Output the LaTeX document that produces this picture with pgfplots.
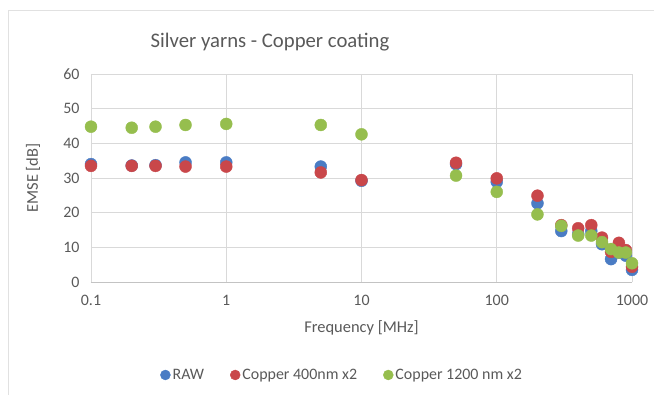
\documentclass[border=0pt]{standalone}
\usepackage{fontspec}
\setmainfont{Carlito}
\usepackage{pgfplots}
\pgfplotsset{compat=1.18}
\definecolor{rawc}{HTML}{4A7CC4}
\definecolor{cuA}{HTML}{C9474A}
\definecolor{cuB}{HTML}{96BE4E}
\definecolor{txt}{HTML}{595959}
\definecolor{grd}{HTML}{D9D9D9}
\begin{document}
\begin{tikzpicture}[x=1bp,y=1bp]
\path[use as bounding box] (0,0) rectangle (654,395);
\draw[grd!80] (8,0) -- (8,385) -- (654,385);
\node[text=txt, font=\fontsize{20.8}{24}\selectfont] at (270,353) {Silver yarns - Copper coating};
\begin{axis}[
  at={(91bp,113bp)}, anchor=south west, scale only axis,
  width=541bp, height=208bp,
  xmode=log, xmin=0.1, xmax=1000, ymin=0, ymax=60,
  ytick={0,10,...,60},
  xtick={0.1,1,10,100,1000}, xticklabels={0.1,1,10,100,1000},
  /pgf/number format/assume math mode=true,
  grid=major, major grid style={grd, line width=0.8bp},
  axis x line*=bottom, axis y line*=left,
  y axis line style={draw=none},
  x axis line style={draw=grd!90!black, line width=0.8bp, -},
  tick style={draw=none},
  ticklabel style={text=txt, font=\fontsize{16}{18}\selectfont},
  yticklabel style={anchor=east, xshift=-8bp},
  xticklabel style={anchor=center, yshift=-18bp},
  xlabel={Frequency [MHz]}, ylabel={EMSE [dB]},
  label style={text=txt, font=\fontsize{16.5}{18}\selectfont},
  xlabel style={at={(axis description cs:0.5,0)}, anchor=center, yshift=-46bp},
  ylabel style={at={(axis description cs:0,0.5)}, anchor=center, yshift=58bp},
  legend columns=3,
  legend style={at={(0.464,-0.447)}, anchor=center, draw=none, fill=none,
    font=\fontsize{16}{18}\selectfont, text=txt, inner sep=0pt,
    /tikz/every odd column/.append style={column sep=0bp},
    /tikz/every even column/.append style={column sep=24bp}},
  legend image code/.code={\draw[#1] (3bp,0bp) circle (5bp);},
  clip=false,
]
\addplot[only marks, mark=*, mark size=6bp, color=rawc, fill=rawc] coordinates {
(0.1,34.0) (0.2,33.6) (0.3,33.7) (0.5,34.5) (1,34.5) (5,33.3) (10,29.2)
(50,34.0) (100,28.9) (200,22.7) (300,14.7) (400,13.8) (500,14.7) (600,10.9)
(700,6.6) (800,8.5) (900,7.6) (1000,3.5)};
\addlegendentry{RAW}
\addplot[only marks, mark=*, mark size=6bp, color=cuA, fill=cuA] coordinates {
(0.1,33.5) (0.2,33.5) (0.3,33.5) (0.5,33.3) (1,33.3) (5,31.6) (10,29.4)
(50,34.4) (100,29.9) (200,24.9) (300,16.4) (400,15.5) (500,16.4) (600,12.8)
(700,8.7) (800,11.3) (900,9.2) (1000,4.4)};
\addlegendentry{Copper 400nm x2}
\addplot[only marks, mark=*, mark size=6bp, color=cuB, fill=cuB] coordinates {
(0.1,44.8) (0.2,44.5) (0.3,44.8) (0.5,45.3) (1,45.6) (5,45.3) (10,42.6)
(50,30.7) (100,26.0) (200,19.5) (300,16.2) (400,13.4) (500,13.4) (600,11.5)
(700,9.5) (800,8.5) (900,8.5) (1000,5.4)};
\addlegendentry{Copper 1200 nm x2}
\end{axis}
\end{tikzpicture}
\end{document}
